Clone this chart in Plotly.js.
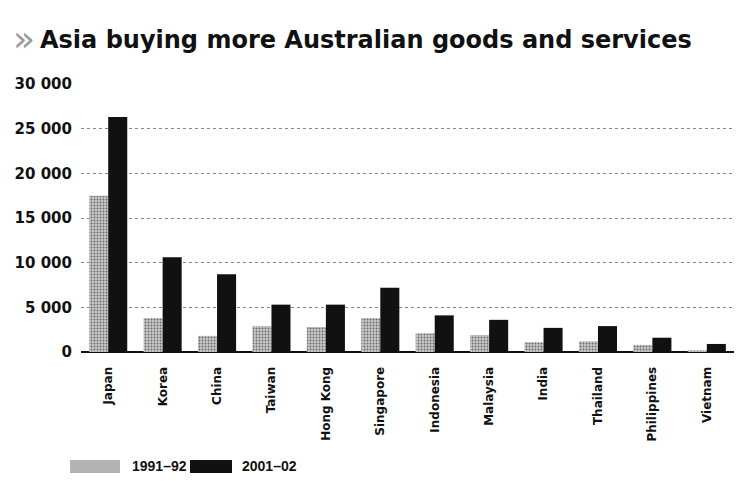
<!DOCTYPE html>
<html>
<head>
<meta charset="utf-8">
<script src="https://cdn.plot.ly/plotly-3.0.1.min.js"></script>
<style>html,body{margin:0;padding:0;background:#fff;}#chart{width:737px;height:481px;}</style>
</head>
<body>
<div id="chart"></div>
<script>
const countries = ["Japan","Korea","China","Taiwan","Hong Kong","Singapore","Indonesia","Malaysia","India","Thailand","Philippines","Vietnam"];
const values1991 = [17500, 3800, 1800, 2900, 2800, 3800, 2100, 1900, 1100, 1200, 800, 200];
const values2001 = [26300, 10600, 8700, 5300, 5300, 7200, 4100, 3600, 2700, 2900, 1600, 900];
const seriesNames = ["1991–92", "2001–02"];
const yTicks = [0, 5000, 10000, 15000, 20000, 25000, 30000];
const titleText = "Asia buying more Australian goods and services";

const FONT = "DejaVu Sans, sans-serif";
const LEGFONT = "Liberation Sans, Arial, sans-serif";
const LIGHT = "#b3b3b3";
const DARK = "#111111";

const traces = [
  {
    type: "bar", name: seriesNames[0], x: countries, y: values1991, showlegend: false,
    marker: {color: LIGHT, line: {width: 0},
      pattern: {shape: ".", fgcolor: "#6a6a6a", bgcolor: "#c8c8c8", size: 3, solidity: 0.3}}
  },
  {
    type: "bar", name: seriesNames[1], x: countries, y: values2001, showlegend: false,
    marker: {color: DARK, line: {width: 0}}
  }
];

// pixel -> paper helpers for decoration (plot area: x 81..734, y 84..352)
const px = p => (p - 81) / 653;
const py = p => (352 - p) / 268;

const layout = {
  width: 737, height: 481,
  margin: {l: 81, r: 3, t: 84, b: 129},
  paper_bgcolor: "#ffffff", plot_bgcolor: "#ffffff",
  separators: ". ",
  barmode: "group", bargap: 0.3, bargroupgap: 0.0,
  title: {
    text: "<b>" + titleText + "</b>",
    font: {family: FONT, size: 24, color: "#111"},
    xref: "container", yref: "container",
    x: 40/737, xanchor: "left", y: 1 - 40/481, yanchor: "middle"
  },
  xaxis: {
    type: "category", tickangle: -90,
    tickfont: {family: FONT, size: 12, color: "#111", weight: 700},
    showgrid: false, showline: false, zeroline: false,
    ticks: "outside", ticklen: 9, tickcolor: "rgba(0,0,0,0)"
  },
  yaxis: {
    range: [0, 30000], tickvals: yTicks, tickformat: ",d",
    tickfont: {family: FONT, size: 15, color: "#111", weight: 700},
    showgrid: true, gridcolor: "#888", griddash: "dot", gridwidth: 1,
    zeroline: true, zerolinecolor: "#111", zerolinewidth: 2,
    showline: false, ticks: "outside", ticklen: 5, tickcolor: "rgba(0,0,0,0)",
    fixedrange: true
  },
  showlegend: false,
  shapes: [
    {type: "rect", xref: "paper", yref: "paper", x0: px(70), x1: px(120), y0: py(473), y1: py(460),
     fillcolor: LIGHT, line: {width: 0}},
    {type: "rect", xref: "paper", yref: "paper", x0: px(190), x1: px(232), y0: py(473), y1: py(460),
     fillcolor: DARK, line: {width: 0}}
  ],
  annotations: [
    {xref: "paper", yref: "paper", x: px(130), y: py(466), xanchor: "left", yanchor: "middle",
     text: seriesNames[0], showarrow: false, font: {family: LEGFONT, size: 14, color: "#111", weight: 700}},
    {xref: "paper", yref: "paper", x: px(240), y: py(466), xanchor: "left", yanchor: "middle",
     text: seriesNames[1], showarrow: false, font: {family: LEGFONT, size: 14, color: "#111", weight: 700}},
    {xref: "paper", yref: "paper", x: px(24), y: py(38), xanchor: "center", yanchor: "middle",
     text: "»", showarrow: false, font: {family: FONT, size: 36, color: "#9a9a9a"}}
  ]
};

Plotly.newPlot("chart", traces, layout, {displayModeBar: false, staticPlot: true});
</script>
</body>
</html>
